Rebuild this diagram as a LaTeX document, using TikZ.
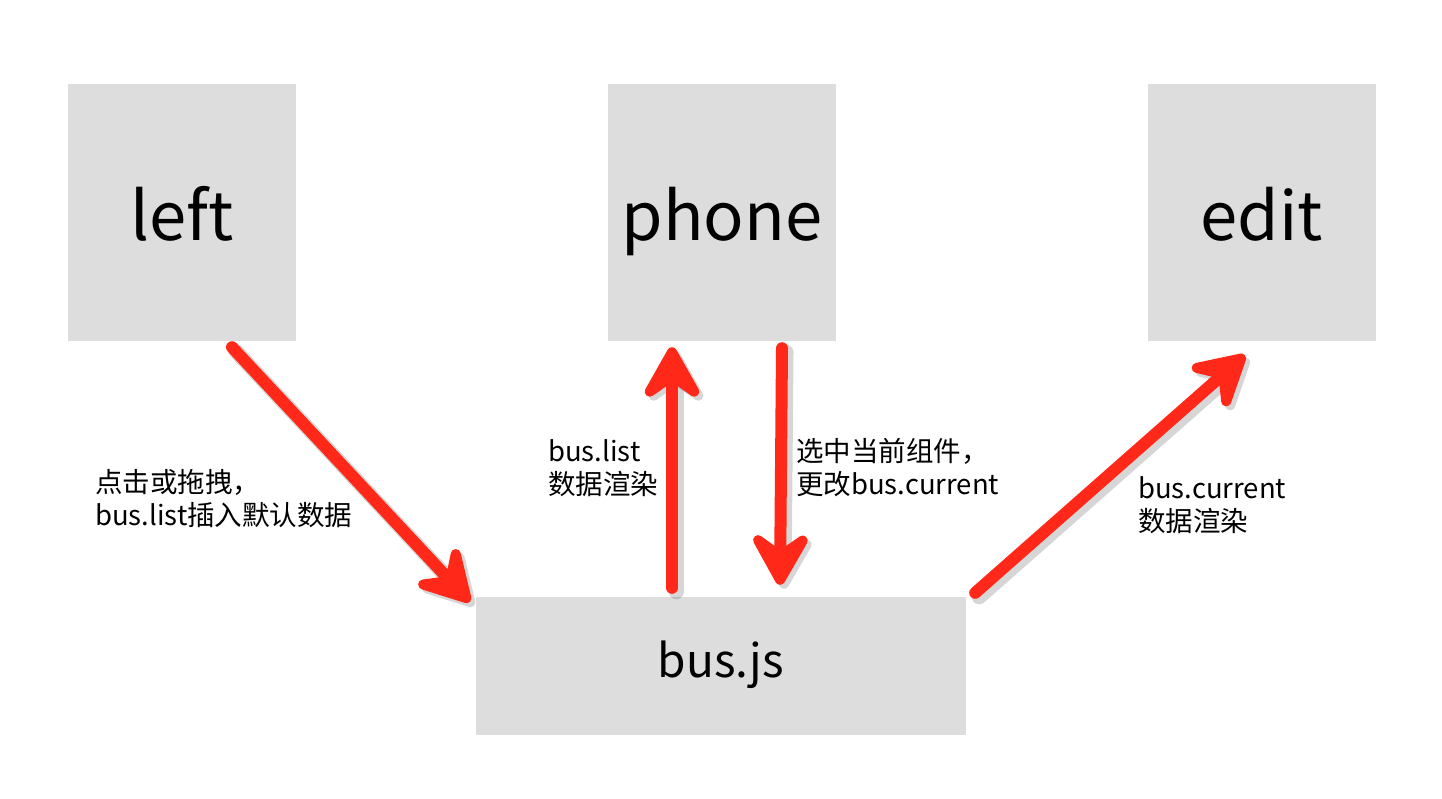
\documentclass[tikz,border=0pt]{standalone}
\usepackage{fontspec}
\setmainfont{Noto Sans CJK SC}
\usetikzlibrary{arrows.meta,calc}
\definecolor{boxgray}{RGB}{221,221,221}
\definecolor{arrred}{RGB}{255,40,25}
\tikzset{
  x=1pt,y=-1pt,
  box/.style={fill=boxgray,draw=none,inner sep=0pt,text=black},
  bigbox/.style={box,minimum width=228pt,minimum height=257pt,font=\fontsize{67}{72}\selectfont,
    text height=60pt,text depth=5pt},
  lbl/.style={anchor=west,align=left,inner sep=0pt,font=\fontsize{27.5}{33}\selectfont},
  redarrow/.style={draw=arrred,line width=12pt,line cap=round,line join=round,
    -{Stealth[length=66pt,width=74pt,inset=26pt,round]}},
  shadowarrow/.style={draw=black,opacity=0.16,line width=15pt,line cap=round,line join=round,
    -{Stealth[length=66pt,width=74pt,inset=26pt,round]}},
}
\begin{document}
\begin{tikzpicture}
\useasboundingbox[fill=white] (0,0) rectangle (1442,798);
\node[bigbox] (left) at (182,212.5) {left};
\node[bigbox] (phone) at (722,212.5) {phone};
\node[bigbox] (edit) at (1262,212.5) {edit};
\node[box,minimum width=490pt,minimum height=138pt,font=\fontsize{46}{50}\selectfont,
  text height=30pt,text depth=8pt] (bus) at (721,666) {bus.js};
% arrow endpoints
\coordinate (a1s) at ($(left.south)+(50,6)$);
\coordinate (a1e) at ($(bus.north west)+(-6,5)$);
\coordinate (a2s) at ($(bus.north)+(-49,-9)$);
\coordinate (a2e) at ($(phone.south)+(-50,6)$);
\coordinate (a3s) at ($(phone.south)+(60,7)$);
\coordinate (a3e) at ($(bus.north)+(59,-12)$);
\coordinate (a4s) at ($(bus.north east)+(9,-4)$);
\coordinate (a4e) at ($(edit.south west)+(97,14)$);
% shadows
\foreach \s/\e in {a1s/a1e,a2s/a2e,a3s/a3e,a4s/a4e}{
  \draw[shadowarrow] ($(\s)+(4,4)$) -- ($(\e)+(4,4)$);
}
\draw[redarrow] (a1s) -- (a1e);
\draw[redarrow] (a2s) -- (a2e);
\draw[redarrow] (a3s) -- (a3e);
\draw[redarrow] (a4s) -- (a4e);
% labels
\node[lbl] (l1) at (95,499) {点击或拖拽，\\bus.list插入默认数据};
\node[lbl] (l2) at (548,468) {bus.list\\数据渲染};
\node[lbl] (l3) at (796,468) {选中当前组件，\\更改bus.current};
\node[lbl] (l4) at (1138,505) {bus.current\\数据渲染};
\end{tikzpicture}
\end{document}
